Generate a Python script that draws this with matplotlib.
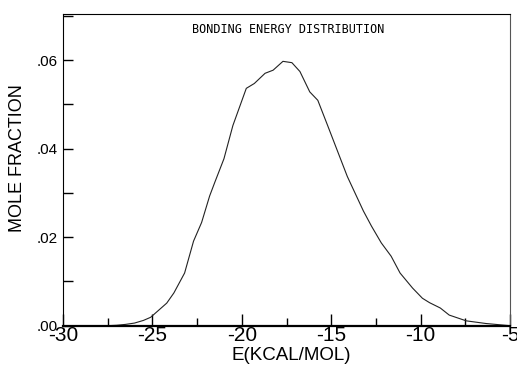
import matplotlib
matplotlib.use("Agg")
import matplotlib.pyplot as plt
from matplotlib.ticker import MultipleLocator, FixedLocator

energy = [-30.0, -27.5, -27.0, -26.5, -26.0, -25.5, -25.1, -24.2, -23.8, -23.2, -22.7,
          -22.25, -21.8, -21.5, -21.0, -20.5, -19.75, -19.3, -18.7, -18.25, -17.7,
          -17.2, -16.75, -16.2, -15.75, -15.2, -14.55, -14.1, -13.2, -12.75, -12.2,
          -11.65, -11.15, -10.45, -9.9, -9.5, -8.9, -8.4, -7.45, -6.35, -5.0]
fraction = [0.0, 0.0, 0.0001, 0.0003, 0.0006, 0.0012, 0.0019, 0.0051, 0.0074, 0.0119, 0.0191,
            0.0233, 0.0293, 0.0325, 0.0377, 0.0452, 0.0536, 0.0547, 0.0570, 0.0577, 0.0597,
            0.0594, 0.0574, 0.0528, 0.0509, 0.0452, 0.0384, 0.0337, 0.0259, 0.0225, 0.0187,
            0.0157, 0.0119, 0.0085, 0.0062, 0.0052, 0.0040, 0.0024, 0.0011, 0.0005, 0.0]

x_major = [-30, -25, -20, -15, -10, -5]
x_labels = ["-30", "-25", "-20", "-15", "-10", "-5"]
y_major = [0.00, 0.02, 0.04, 0.06]
y_labels = [".00", ".02", ".04", ".06"]
title = "BONDING ENERGY DISTRIBUTION"
xlabel = "E(KCAL/MOL)"
ylabel = "MOLE FRACTION"

plt.rcParams['font.family'] = ['Liberation Sans', 'DejaVu Sans']

fig = plt.figure(figsize=(5.17, 3.67), dpi=100)
ax = fig.add_axes([0.1219, 0.1125, 0.8646, 0.8507])
ax.plot(energy, fraction, color="#222222", linewidth=0.8)

ax.set_xlim(-30, -5)
ax.set_ylim(0, 0.0705)

ax.xaxis.set_major_locator(FixedLocator(x_major))
ax.set_xticklabels(x_labels, fontsize=15)
ax.xaxis.set_minor_locator(MultipleLocator(2.5))
ax.yaxis.set_major_locator(FixedLocator(y_major))
ax.set_yticklabels(y_labels, fontsize=11)
ax.yaxis.set_minor_locator(MultipleLocator(0.01))

ax.tick_params(axis="x", which="major", direction="in", length=9, width=1.0, pad=0.5)
ax.tick_params(axis="x", which="minor", direction="in", length=6, width=1.0)
ax.tick_params(axis="y", which="major", direction="in", length=7, width=1.0, pad=4)
ax.tick_params(axis="y", which="minor", direction="in", length=7, width=1.0)
ax.tick_params(top=False, right=False)

for side in ["left", "top", "right"]:
    ax.spines[side].set_linewidth(0.8)
ax.spines["bottom"].set_linewidth(1.6)
ax.spines["right"].set_color("#555555")

ax.text(-17.4, 0.0670, title, ha="center", va="center", fontsize=8.5,
        family="DejaVu Sans Mono")

ax.set_xlabel(xlabel, fontsize=13.5, labelpad=0)
ax.set_ylabel(ylabel, fontsize=13)
ax.yaxis.set_label_coords(-0.083, 0.537)
ax.xaxis.set_label_coords(0.51, -0.068)

fig.savefig("out.png", dpi=100)
